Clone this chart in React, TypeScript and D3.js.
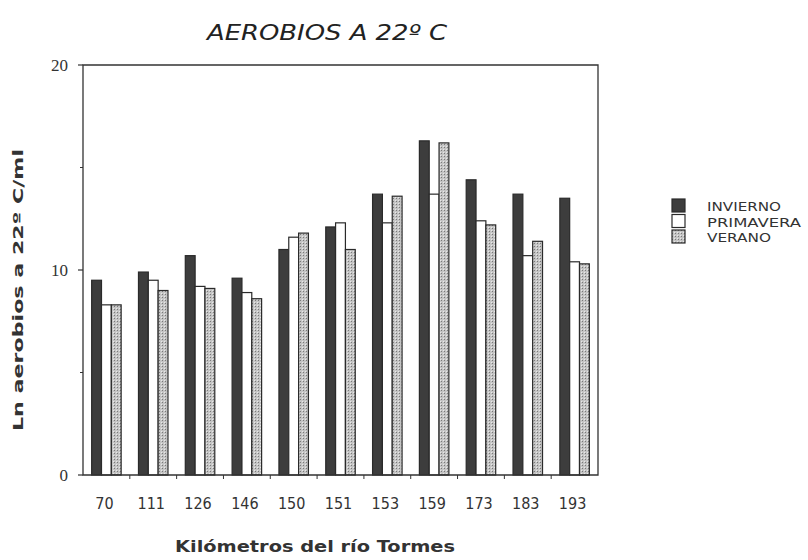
import React from "react";
import * as d3 from "d3";

// river km stations
const categories = ["70", "111", "126", "146", "150", "151", "153", "159", "173", "183", "193"];
const seriesNames = ["INVIERNO", "PRIMAVERA", "VERANO"];
const invierno = [9.5, 9.9, 10.7, 9.6, 11.0, 12.1, 13.7, 16.3, 14.4, 13.7, 13.5];
const primavera = [8.3, 9.5, 9.2, 8.9, 11.6, 12.3, 12.3, 13.7, 12.4, 10.7, 10.4];
const verano = [8.3, 9.0, 9.1, 8.6, 11.8, 11.0, 13.6, 16.2, 12.2, 11.4, 10.3];
const yTicks = [0, 10, 20];
const yMinorTicks = [5, 15];

const W = 808;
const H = 560;
const margin = { top: 65, right: 210, bottom: 85, left: 83 };

const fills = ["#3d3d3d", "#ffffff", "url(#hatch)"];
const legendWidths = [74, 94, 64];

export default function App() {
  const x = d3
    .scaleBand()
    .domain(categories)
    .range([margin.left, W - margin.right])
    .paddingInner(0.37)
    .paddingOuter(0.185);

  const x1 = d3.scaleBand().domain(seriesNames).range([0, x.bandwidth()]);

  const y = d3
    .scaleLinear()
    .domain([0, 20])
    .range([H - margin.bottom, margin.top]);

  const values = [invierno, primavera, verano];
  const gap = (x.step() - x.bandwidth()) / 2;
  const x0 = margin.left;
  const xEnd = W - margin.right;
  const y0 = y(0);

  return (
    <svg
      width={W}
      height={H}
      style={{ position: "absolute", left: 0, top: 0, background: "#fff" }}
    >
      <defs>
        <pattern id="hatch" width="3" height="3" patternUnits="userSpaceOnUse">
          <rect width="3" height="3" fill="#c4c4c4" />
          <rect width="1" height="1" fill="#7a7a7a" />
          <rect x="2" y="2" width="1" height="1" fill="#e8e8e8" />
        </pattern>
      </defs>

      {/* title */}
      <text
        x={327}
        y={40}
        textAnchor="middle"
        fontFamily="'DejaVu Sans Condensed', sans-serif"
        fontStyle="italic"
        fontSize={22}
        fill="#222"
        textLength={240}
        lengthAdjust="spacingAndGlyphs"
      >
        AEROBIOS A 22º C
      </text>

      {/* bars */}
      {categories.map((c, i) => (
        <g key={c}>
          {seriesNames.map((s, j) => (
            <rect
              key={s}
              x={(x(c) as number) + (x1(s) as number)}
              y={y(values[j][i])}
              width={x1.bandwidth()}
              height={y0 - y(values[j][i])}
              fill={fills[j]}
              stroke="#2a2a2a"
              strokeWidth={1.2}
            />
          ))}
        </g>
      ))}

      {/* frame */}
      <path
        d={`M${x0},${y(20)}H${xEnd}V${y0}H${x0}Z`}
        fill="none"
        stroke="#333"
        strokeWidth={1.3}
      />

      {/* y ticks */}
      {yTicks.map((t) => (
        <g key={t}>
          <line x1={x0 - 5} x2={x0} y1={y(t)} y2={y(t)} stroke="#333" strokeWidth={1.2} />
          <text
            x={68}
            y={y(t) + 6}
            textAnchor="end"
            fontFamily="'Liberation Serif', serif"
            fontSize={17}
            fill="#333"
          >
            {t}
          </text>
        </g>
      ))}
      {yMinorTicks.map((t) => (
        <line key={t} x1={x0 - 3} x2={x0} y1={y(t)} y2={y(t)} stroke="#333" strokeWidth={1} />
      ))}

      {/* x ticks at group boundaries */}
      {categories.slice(1).map((c) => (
        <line
          key={c}
          x1={(x(c) as number) - gap}
          x2={(x(c) as number) - gap}
          y1={y0}
          y2={y0 + 4}
          stroke="#333"
          strokeWidth={1}
        />
      ))}
      {categories.map((c) => (
        <text
          key={c}
          x={(x(c) as number) + x.bandwidth() / 2 - 2}
          y={509}
          textAnchor="middle"
          fontFamily="'DejaVu Sans Condensed', sans-serif"
          fontSize={16}
          fill="#333"
        >
          {c}
        </text>
      ))}

      {/* axis titles */}
      <text
        x={315}
        y={552}
        textAnchor="middle"
        fontFamily="'DejaVu Sans', sans-serif"
        fontWeight="bold"
        fontSize={15}
        fill="#333"
        textLength={280}
        lengthAdjust="spacingAndGlyphs"
      >
        Kilómetros del río Tormes
      </text>
      <text
        transform={`translate(23,290) rotate(-90)`}
        textAnchor="middle"
        fontFamily="'DejaVu Sans', sans-serif"
        fontWeight="bold"
        fontSize={14}
        fill="#333"
        textLength={282}
        lengthAdjust="spacingAndGlyphs"
      >
        Ln aerobios a 22º C/ml
      </text>

      {/* legend */}
      {seriesNames.map((s, j) => (
        <g key={s} transform={`translate(672,${199 + j * 15.5})`}>
          <rect width={13} height={13} fill={fills[j]} stroke="#2a2a2a" strokeWidth={1.2} />
          <text
            x={35}
            y={12}
            fontFamily="'DejaVu Sans Condensed', sans-serif"
            fontSize={13}
            fill="#333"
            textLength={legendWidths[j]}
            lengthAdjust="spacingAndGlyphs"
          >
            {s}
          </text>
        </g>
      ))}
    </svg>
  );
}
